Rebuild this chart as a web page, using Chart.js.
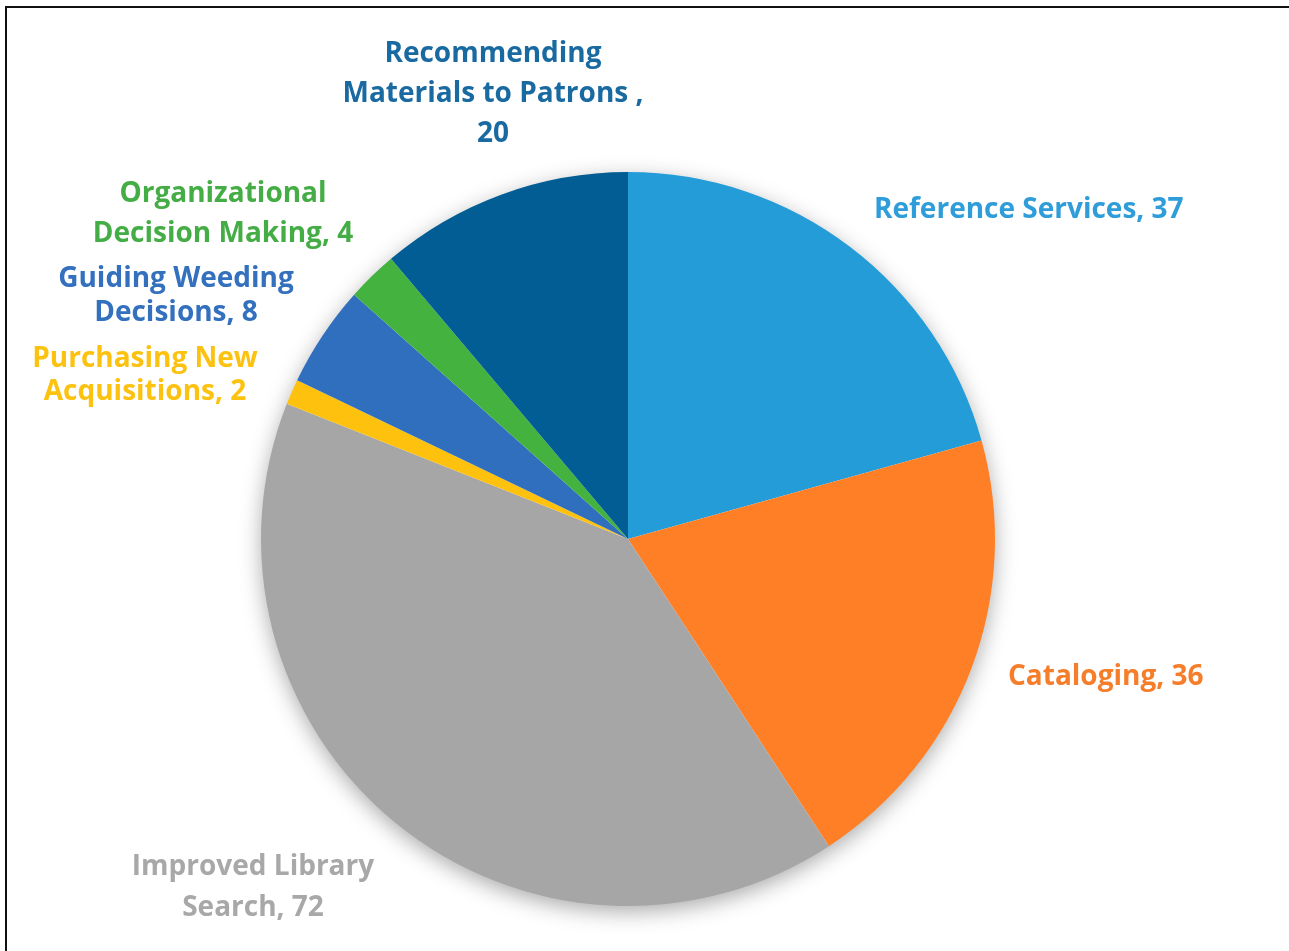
<!DOCTYPE html>
<html lang="en">
  <head>
    <meta charset="UTF-8" />
    <title>Library uses pie</title>
    <style>
      * {
        margin: 0;
        padding: 0;
        box-sizing: border-box;
      }
      body {
        width: 1289px;
        height: 951px;
        background: white;
        overflow: hidden;
        position: relative;
      }
      .frame {
        position: absolute;
        left: 5px;
        top: 6px;
        width: 1300px;
        height: 960px;
        border-top: 2px solid #111;
        border-left: 2px solid #111;
      }
      #myChart {
        position: absolute;
        left: 0;
        top: 0;
      }
    </style>
  </head>
  <body>
    <div class="frame"></div>
    <canvas id="myChart" width="1289" height="951"></canvas>

    <script src="https://cdn.jsdelivr.net/npm/chart.js"></script>

    <script>
      const categories = [
        "Reference Services",
        "Cataloging",
        "Improved Library Search",
        "Purchasing New Acquisitions",
        "Guiding Weeding Decisions",
        "Organizational Decision Making",
        "Recommending Materials to Patrons",
      ];
      const counts = [37, 36, 72, 2, 8, 4, 20];
      const sliceColors = [
        "#239cd8",
        "#fe7f26",
        "#a6a6a6",
        "#fec10e",
        "#2f6fbd",
        "#43b23f",
        "#025d94",
      ];
      const labelColors = [
        "#2e9dd9",
        "#f67d2a",
        "#a8a8a8",
        "#fcc20f",
        "#3370be",
        "#45ad45",
        "#1a6aa2",
      ];
      // label text split in lines, as the reference wraps them
      const labelLines = [
        ["Reference Services, 37"],
        ["Cataloging, 36"],
        ["Improved Library", "Search, 72"],
        ["Purchasing New", "Acquisitions, 2"],
        ["Guiding Weeding", "Decisions, 8"],
        ["Organizational", "Decision Making, 4"],
        ["Recommending", "Materials to Patrons ,", "20"],
      ];

      // where each label sits: x, y of first line, alignment, line step
      const labelPlaces = [
        { x: 874, y: 210, align: "left", step: 40 },
        { x: 1008, y: 677, align: "left", step: 40 },
        { x: 253, y: 867, align: "center", step: 41 },
        { x: 145, y: 359, align: "center", step: 33 },
        { x: 176, y: 279, align: "center", step: 34 },
        { x: 223, y: 194, align: "center", step: 40 },
        { x: 493, y: 54, align: "center", step: 40 },
      ];

      const pieShadow = {
        id: "pieShadow",
        beforeDatasetsDraw(chart) {
          const arc = chart.getDatasetMeta(0).data[0];
          const c = chart.ctx;
          c.save();
          c.shadowColor = "rgba(0,0,0,0.35)";
          c.shadowBlur = 22;
          c.shadowOffsetY = 6;
          c.fillStyle = "white";
          c.beginPath();
          c.arc(arc.x, arc.y, arc.outerRadius - 1, 0, Math.PI * 2);
          c.fill();
          c.restore();
        },
      };

      const sliceLabels = {
        id: "sliceLabels",
        afterDatasetsDraw(chart) {
          const c = chart.ctx;
          c.save();
          c.font = "bold 28px 'Open Sans'";
          c.textBaseline = "middle";
          labelLines.forEach((lines, i) => {
            const p = labelPlaces[i];
            c.fillStyle = labelColors[i];
            c.textAlign = p.align;
            lines.forEach((t, j) => {
              c.fillText(t, p.x, p.y + j * p.step);
            });
          });
          c.restore();
        },
      };

      const ctx = document.getElementById("myChart");

      const myChart = new Chart(ctx, {
        type: "pie",
        data: {
          labels: categories,
          datasets: [
            {
              data: counts,
              backgroundColor: sliceColors,
              borderWidth: 0,
            },
          ],
        },
        options: {
          responsive: false,
          animation: false,
          layout: {
            padding: { left: 261, right: 294, top: 172, bottom: 45 },
          },
          plugins: {
            legend: { display: false },
            tooltip: { enabled: false },
          },
        },
        plugins: [pieShadow, sliceLabels],
      });
    </script>
  </body>
</html>
